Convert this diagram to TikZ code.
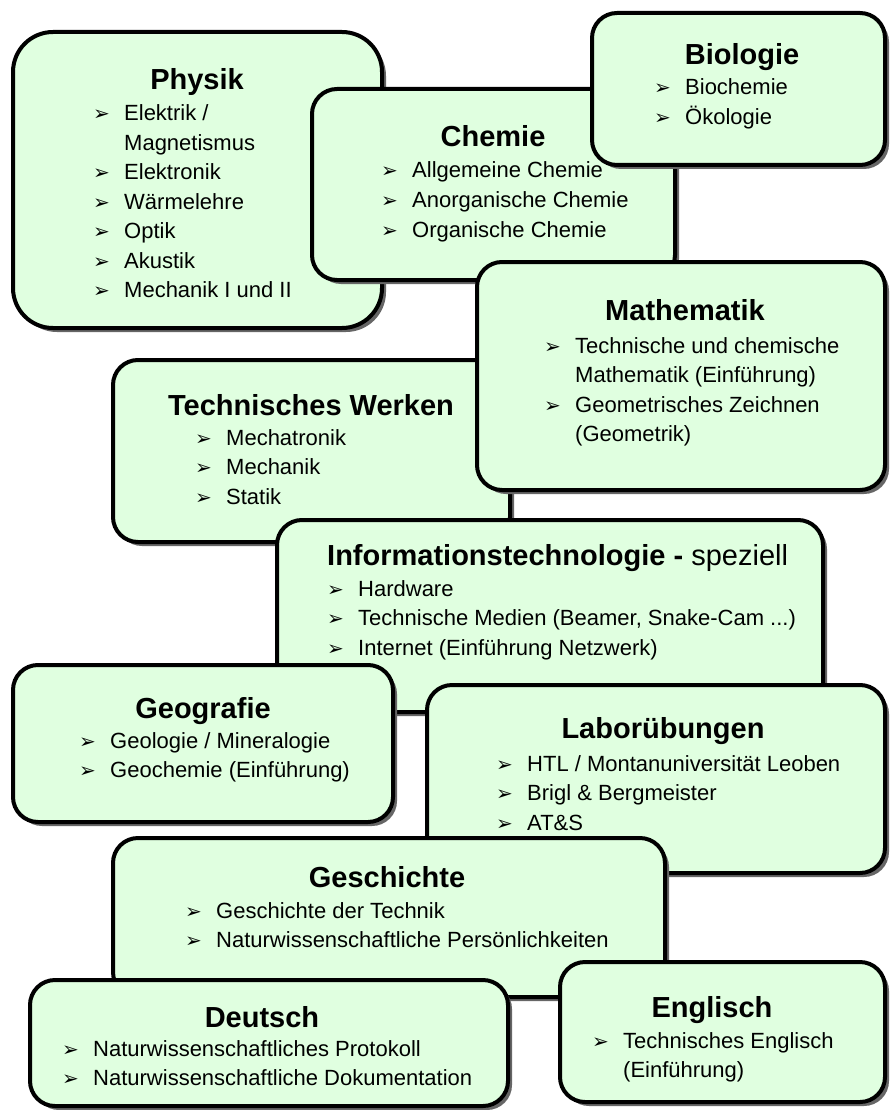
\documentclass[tikz,border=0pt]{standalone}
\usepackage{fontspec}
\setmainfont{Liberation Sans}
\newfontfamily\bulletfont{DejaVu Sans}
\usetikzlibrary{shadows}
\definecolor{subjectgreen}{RGB}{224,255,224}
\newcommand{\bul}{\makebox[31pt][l]{\bulletfont\fontsize{20}{20}\selectfont ➢}}

\begin{document}
\begin{tikzpicture}[
        x=1pt, y=-1pt,
        subject/.style={draw=black, line width=4pt, fill=subjectgreen, rounded corners=25pt, inner sep=0pt,
            drop shadow={shadow xshift=4pt, shadow yshift=-4pt, fill=black!60, opacity=1}},
        subjtitle/.style={anchor=base, inner sep=0pt, font=\bfseries\fontsize{29}{32}\selectfont},
        subjitems/.style={anchor=base west, inner sep=0pt, font=\fontsize{22}{29.5}\selectfont},
    ]
    \useasboundingbox (0,0) rectangle (890,1110);

    \node[subject, minimum width=369pt, minimum height=296pt, rounded corners=40pt] (physik) at (197.5,180) {};
    \node[subjtitle] (physikT) at (197,90) {Physik};
    \node[subjitems] (physikL) at (93,121) {\begin{tabular}[t]{@{}l@{}l@{}}
        \bul & Elektrik / \\
             & Magnetismus \\
        \bul & Elektronik \\
        \bul & Wärmelehre \\
        \bul & Optik \\
        \bul & Akustik \\
        \bul & Mechanik I und II
    \end{tabular}};

    \node[subject, minimum width=363pt, minimum height=191pt] (chemie) at (493.5,184.5) {};
    \node[subjtitle] (chemieT) at (493,147) {Chemie};
    \node[subjitems] (chemieL) at (381,178) {\begin{tabular}[t]{@{}l@{}l@{}}
        \bul & Allgemeine Chemie \\
        \bul & Anorganische Chemie \\
        \bul & Organische Chemie
    \end{tabular}};

    \node[subject, minimum width=293pt, minimum height=152pt] (biologie) at (738.5,89) {};
    \node[subjtitle] (biologieT) at (742,65) {Biologie};
    \node[subjitems] (biologieL) at (654,95) {\begin{tabular}[t]{@{}l@{}l@{}}
        \bul & Biochemie \\
        \bul & Ökologie
    \end{tabular}};

    \node[subject, minimum width=397pt, minimum height=182pt] (werken) at (311.5,451) {};
    \node[subjtitle] (werkenT) at (311,415) {Technisches Werken};
    \node[subjitems] (werkenL) at (195,445) {\begin{tabular}[t]{@{}l@{}l@{}}
        \bul & Mechatronik \\
        \bul & Mechanik \\
        \bul & Statik
    \end{tabular}};

    \node[subject, minimum width=408pt, minimum height=228pt] (mathe) at (681,376) {};
    \node[subjtitle] (matheT) at (685,320) {Mathematik};
    \node[subjitems] (matheL) at (544,353) {\begin{tabular}[t]{@{}l@{}l@{}}
        \bul & Technische und chemische \\
             & Mathematik (Einführung) \\
        \bul & Geometrisches Zeichnen \\
             & (Geometrik)
    \end{tabular}};

    \node[subject, minimum width=546pt, minimum height=192pt] (info) at (550,616) {};
    \node[subjtitle, anchor=base west] (infoT) at (327,565) {Informationstechnologie - \mdseries speziell};
    \node[subjitems] (infoL) at (327,596) {\begin{tabular}[t]{@{}l@{}l@{}}
        \bul & Hardware \\
        \bul & Technische Medien (Beamer, Snake-Cam ...) \\
        \bul & Internet (Einführung Netzwerk)
    \end{tabular}};

    \node[subject, minimum width=380pt, minimum height=157pt] (geografie) at (203,743.5) {};
    \node[subjtitle] (geografieT) at (203,718) {Geografie};
    \node[subjitems] (geografieL) at (79,748) {\begin{tabular}[t]{@{}l@{}l@{}}
        \bul & Geologie / Mineralogie \\
        \bul & Geochemie (Einführung)
    \end{tabular}};

    \node[subject, minimum width=458pt, minimum height=188pt] (labor) at (656,779) {};
    \node[subjtitle] (laborT) at (663,738) {Laborübungen};
    \node[subjitems] (laborL) at (496,771) {\begin{tabular}[t]{@{}l@{}l@{}}
        \bul & HTL / Montanuniversität Leoben \\
        \bul & Brigl \& Bergmeister \\
        \bul & AT\&S
    \end{tabular}};

    \node[subject, minimum width=552pt, minimum height=159pt] (geschichte) at (389,917.5) {};
    \node[subjtitle] (geschichteT) at (387,887) {Geschichte};
    \node[subjitems] (geschichteL) at (185,918) {\begin{tabular}[t]{@{}l@{}l@{}}
        \bul & Geschichte der Technik \\
        \bul & Naturwissenschaftliche Persönlichkeiten
    \end{tabular}};

    \node[subject, minimum width=478pt, minimum height=126pt] (deutsch) at (269,1043) {};
    \node[subjtitle] (deutschT) at (262,1027) {Deutsch};
    \node[subjitems] (deutschL) at (62,1056) {\begin{tabular}[t]{@{}l@{}l@{}}
        \bul & Naturwissenschaftliches Protokoll \\
        \bul & Naturwissenschaftliche Dokumentation
    \end{tabular}};

    \node[subject, minimum width=325pt, minimum height=140pt] (englisch) at (722.5,1032) {};
    \node[subjtitle] (englischT) at (712,1017) {Englisch};
    \node[subjitems] (englischL) at (592,1048) {\begin{tabular}[t]{@{}l@{}l@{}}
        \bul & Technisches Englisch \\
             & (Einführung)
    \end{tabular}};
\end{tikzpicture}
\end{document}
